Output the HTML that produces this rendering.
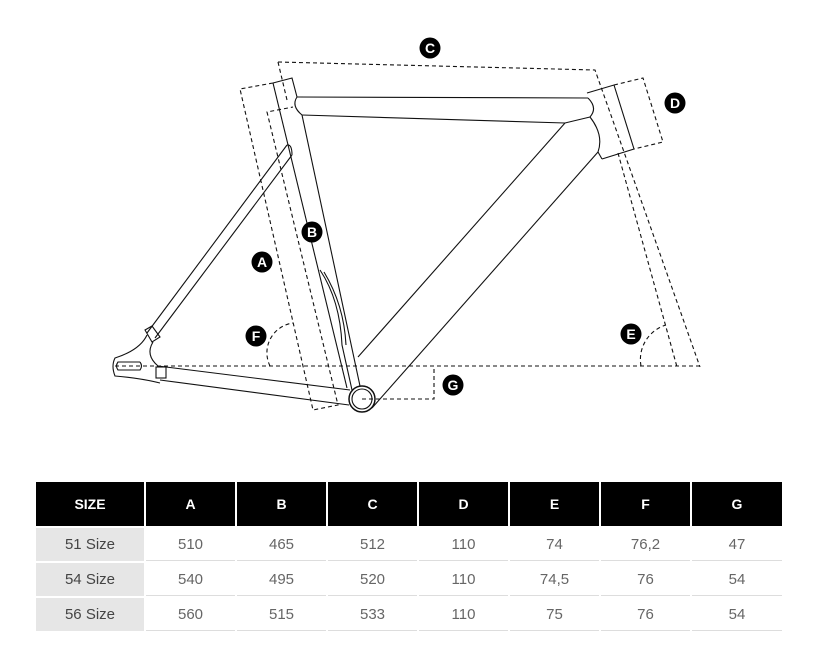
<!DOCTYPE html>
<html><head><meta charset="utf-8"><style>
body{margin:0;background:#fff;width:822px;height:660px;overflow:hidden;font-family:"Liberation Sans",sans-serif;}
svg{position:absolute;left:0;top:0}
table{position:absolute;left:36px;top:482px;border-collapse:separate;border-spacing:2px 2px;margin:-2px}
td,th{text-align:center;padding:0}
th{background:#000;color:#fff;font-size:14px;font-weight:bold;height:44px}
td{height:32px;font-size:15px;color:#666;border-bottom:1px solid #ddd}
td.s{background:#e6e6e6;color:#444;border-bottom:none}
</style></head><body>
<svg width="822" height="470" viewBox="0 0 822 470">
<g fill="none" stroke="#111" stroke-width="1.1" stroke-dasharray="4,3">
<polyline points="278,62 595,70 700,367"/>
<line x1="278" y1="62" x2="287" y2="100"/>
<line x1="618" y1="153" x2="677" y2="367"/>
<polyline points="614,85 643,78 663,142 634,149"/>
<polyline points="273,83 240,89 313,410 338,405 267,112 293,107"/>
<line x1="115" y1="366" x2="700" y2="366"/>
<polyline points="362,399 434,399 434,366"/>
<path d="M270,366 A30,30 0 0 1 293,323"/>
<path d="M641,366 A36,36 0 0 1 666,325"/>
</g>
<g fill="none" stroke="#111" stroke-width="1.1">
<path d="M273,83 L292,78 L297,97"/>
<line x1="273" y1="83" x2="347" y2="388"/>
<path d="M297,97 Q291,106 302,115"/>
<line x1="302" y1="115" x2="360" y2="386"/>
<path d="M320,270 Q340,300 342,345 L352,390"/>
<path d="M324,272 Q344,305 346,345"/>
<line x1="297" y1="97" x2="588" y2="98"/>
<path d="M302,115 L565,123 L590,117"/>
<path d="M587,93 L614,85 L634,149 L602,159"/>
<path d="M588,98 Q598,108 590,117 Q604,135 598,152 L602,159"/>
<line x1="565" y1="123" x2="358" y2="357"/>
<line x1="598" y1="152" x2="372" y2="408"/>
<path d="M287,145 Q292,144 292,155"/>
<line x1="287" y1="145" x2="147" y2="333"/>
<line x1="292" y1="155" x2="155" y2="338"/>
<path d="M145,330 L152,326 L160,337 L152,342 Z"/>
<path d="M147,335 Q140,350 115,358 Q111,366 115,376 Q140,378 160,383"/>
<path d="M153,342 Q145,355 158,366"/>
<path d="M140,362 L118,362 Q115,366 118,370 L140,370 Q143,366 140,362"/>
<line x1="158" y1="366" x2="350" y2="390"/>
<line x1="160" y1="380" x2="349" y2="405"/>
<rect x="156" y="367" width="10" height="11"/>
<circle cx="362" cy="399" r="13" stroke-width="1.5"/>
<circle cx="362" cy="399" r="10"/>
</g>
<g font-family="Liberation Sans,sans-serif" font-weight="bold" font-size="14" fill="#fff" text-anchor="middle">
<circle cx="430" cy="48" r="10.5" fill="#000"/><text x="430" y="53">C</text>
<circle cx="675" cy="103" r="10.5" fill="#000"/><text x="675" y="108">D</text>
<circle cx="312" cy="232" r="10.5" fill="#000"/><text x="312" y="237">B</text>
<circle cx="262" cy="262" r="10.5" fill="#000"/><text x="262" y="267">A</text>
<circle cx="256" cy="336" r="10.5" fill="#000"/><text x="256" y="341">F</text>
<circle cx="631" cy="334" r="10.5" fill="#000"/><text x="631" y="339">E</text>
<circle cx="453" cy="385" r="10.5" fill="#000"/><text x="453" y="390">G</text>
</g>
</svg>
<table>
<tr><th style="width:108px">SIZE</th><th style="width:89px">A</th><th style="width:89px">B</th><th style="width:89px">C</th><th style="width:89px">D</th><th style="width:89px">E</th><th style="width:89px">F</th><th style="width:90px">G</th></tr>
<tr><td class="s">51 Size</td><td>510</td><td>465</td><td>512</td><td>110</td><td>74</td><td>76,2</td><td>47</td></tr>
<tr><td class="s">54 Size</td><td>540</td><td>495</td><td>520</td><td>110</td><td>74,5</td><td>76</td><td>54</td></tr>
<tr><td class="s">56 Size</td><td>560</td><td>515</td><td>533</td><td>110</td><td>75</td><td>76</td><td>54</td></tr>
</table>
</body></html>
